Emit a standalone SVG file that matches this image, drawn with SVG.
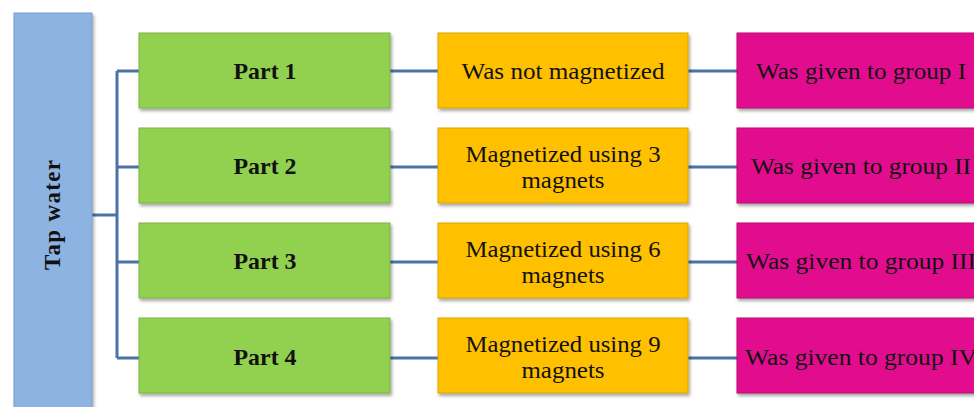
<svg xmlns="http://www.w3.org/2000/svg" width="974" height="407" viewBox="0 0 974 407">
<defs>
<filter id="sh" x="-10%" y="-10%" width="120%" height="130%">
<feDropShadow dx="1.5" dy="2.5" stdDeviation="1.5" flood-color="#000" flood-opacity="0.35"/>
</filter>
<style>
.box{stroke-width:1;filter:url(#sh)}
.blue{fill:#8DB3E2;stroke:#7A9CC6}
.green{fill:#92D050;stroke:#7EB343}
.orange{fill:#FFC000;stroke:#D9A300}
.mag{fill:#E20E8E;stroke:#B80B73}
.t{font-family:"Liberation Serif","Times New Roman",serif;font-size:23px;fill:#111;text-anchor:middle}
.b{font-weight:bold}
.c{fill:none;stroke:#4A72A6;stroke-width:3}
</style>
</defs>
<rect width="974" height="407" fill="#fff"/>
<g id="connectors">
<path class="c" d="M92,215 H117 M117,71 V358 M117,71 H139 M117,167 H139 M117,262 H139 M117,358 H139"/>
<path class="c" d="M390,71 H438 M390,167 H438 M390,262 H438 M390,358 H438"/>
<path class="c" d="M688,71 H737 M688,167 H737 M688,262 H737 M688,358 H737"/>
</g>
<g id="tapwater">
<rect class="box blue" x="14" y="13" width="78" height="400"/>
<text class="t b" transform="translate(60,215) rotate(-90)" textLength="110" lengthAdjust="spacing">Tap water</text>
</g>
<g id="part1"><rect class="box green" x="139" y="33" width="251" height="75"/><text class="t b" x="265" y="79" textLength="63" lengthAdjust="spacingAndGlyphs">Part 1</text></g>
<g id="part2"><rect class="box green" x="139" y="128" width="251" height="75"/><text class="t b" x="265" y="174" textLength="63" lengthAdjust="spacingAndGlyphs">Part 2</text></g>
<g id="part3"><rect class="box green" x="139" y="223" width="251" height="75"/><text class="t b" x="265" y="269" textLength="63" lengthAdjust="spacingAndGlyphs">Part 3</text></g>
<g id="part4"><rect class="box green" x="139" y="318" width="251" height="75"/><text class="t b" x="265" y="365" textLength="63" lengthAdjust="spacingAndGlyphs">Part 4</text></g>
<g id="mag0"><rect class="box orange" x="438" y="33" width="250" height="75"/><text class="t" x="563" y="79" textLength="203" lengthAdjust="spacingAndGlyphs">Was not magnetized</text></g>
<g id="mag3"><rect class="box orange" x="438" y="128" width="250" height="75"/><text class="t" x="563" y="162" textLength="195" lengthAdjust="spacingAndGlyphs">Magnetized using 3</text><text class="t" x="563" y="188" textLength="83" lengthAdjust="spacingAndGlyphs">magnets</text></g>
<g id="mag6"><rect class="box orange" x="438" y="223" width="250" height="75"/><text class="t" x="563" y="257" textLength="195" lengthAdjust="spacingAndGlyphs">Magnetized using 6</text><text class="t" x="563" y="283" textLength="83" lengthAdjust="spacingAndGlyphs">magnets</text></g>
<g id="mag9"><rect class="box orange" x="438" y="318" width="250" height="75"/><text class="t" x="563" y="352" textLength="195" lengthAdjust="spacingAndGlyphs">Magnetized using 9</text><text class="t" x="563" y="378" textLength="83" lengthAdjust="spacingAndGlyphs">magnets</text></g>
<g id="group1"><rect class="box mag" x="737" y="33" width="250" height="75"/><text class="t" x="861" y="79" textLength="210" lengthAdjust="spacingAndGlyphs">Was given to group I</text></g>
<g id="group2"><rect class="box mag" x="737" y="128" width="250" height="75"/><text class="t" x="861" y="174" textLength="220" lengthAdjust="spacingAndGlyphs">Was given to group II</text></g>
<g id="group3"><rect class="box mag" x="737" y="223" width="250" height="75"/><text class="t" x="861" y="269" textLength="230" lengthAdjust="spacingAndGlyphs">Was given to group III</text></g>
<g id="group4"><rect class="box mag" x="737" y="318" width="250" height="75"/><text class="t" x="861" y="365" textLength="232" lengthAdjust="spacingAndGlyphs">Was given to group IV</text></g>
</svg>
